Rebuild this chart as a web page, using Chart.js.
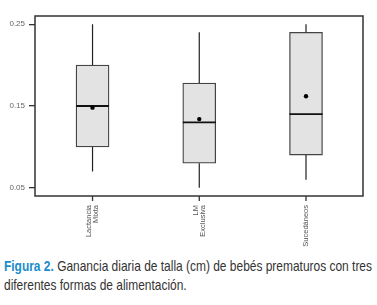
<!DOCTYPE html>
<html>
<head>
<meta charset="utf-8">
<script src="https://cdn.jsdelivr.net/npm/chart.js@4/dist/chart.umd.min.js"></script>
<style>
  html, body { margin: 0; padding: 0; background: #fff; }
  #wrap { position: relative; width: 377px; height: 305px; overflow: hidden; }
  #chartBox { position: absolute; left: 0; top: 0; width: 377px; height: 250px; }
  #caption { position: absolute; left: 4px; top: 256px;
    font-family: "Liberation Sans", Arial, sans-serif;
    font-size: 15px; line-height: 19px; color: #333; white-space: nowrap;
    transform-origin: 0 0; }
  #caption b { color: #1b8ccb; }
</style>
</head>
<body>
<div id="wrap">
  <div id="chartBox"><canvas id="c"></canvas></div>
  <div id="caption"><span id="l1"><b>Figura 2.</b> Ganancia diaria de talla (cm) de bebés prematuros con tres</span><br>diferentes formas de alimentación.</div>
</div>
<script>
const categories = [['Lactancia', 'Mixta'], ['LM', 'Exclusiva'], ['Sucedáneos']];
const whiskerMin = [0.07, 0.05, 0.06];
const q1 = [0.10, 0.08, 0.09];
const median = [0.15, 0.13, 0.14];
const q3 = [0.20, 0.178, 0.24];
const whiskerMax = [0.25, 0.24, 0.25];
const mean = [0.148, 0.134, 0.162];
const yTicks = [0.05, 0.15, 0.25];

const positions = categories.map((_, i) => i + 1);

// fit caption width like the condensed original
(function () {
  const l1 = document.getElementById('l1');
  const w = l1.getBoundingClientRect().width;
  const s = 368 / w;
  document.getElementById('caption').style.transform = 'scaleX(' + s + ')';
})();

const boxPlugin = {
  id: 'boxExtras',
  afterDatasetsDraw(chart) {
    const ctx = chart.ctx, xs = chart.scales.x, ys = chart.scales.y;
    const meta = chart.getDatasetMeta(0);
    ctx.save();
    positions.forEach((p, i) => {
      const x = xs.getPixelForValue(p);
      const bar = meta.data[i];
      const half = bar.width / 2;
      ctx.strokeStyle = '#222'; ctx.lineWidth = 1.2;
      ctx.beginPath();
      ctx.moveTo(x, ys.getPixelForValue(q3[i])); ctx.lineTo(x, ys.getPixelForValue(whiskerMax[i]));
      ctx.moveTo(x, ys.getPixelForValue(q1[i])); ctx.lineTo(x, ys.getPixelForValue(whiskerMin[i]));
      ctx.stroke();
      ctx.strokeStyle = '#111'; ctx.lineWidth = 1.8;
      ctx.beginPath();
      const ym = ys.getPixelForValue(median[i]);
      ctx.moveTo(x - half, ym); ctx.lineTo(x + half, ym);
      ctx.stroke();
      ctx.fillStyle = '#000';
      ctx.beginPath();
      ctx.arc(x, ys.getPixelForValue(mean[i]), 2.2, 0, Math.PI * 2);
      ctx.fill();
    });
    ctx.restore();
  },
  afterDraw(chart) {
    const ctx = chart.ctx, a = chart.chartArea, xs = chart.scales.x;
    ctx.save();
    ctx.strokeStyle = '#333'; ctx.lineWidth = 1.5;
    ctx.strokeRect(a.left, a.top, a.right - a.left, a.bottom - a.top);
    // x tick marks
    ctx.lineWidth = 1.3;
    ctx.beginPath();
    positions.forEach(p => {
      const x = xs.getPixelForValue(p);
      ctx.moveTo(x, a.bottom); ctx.lineTo(x, a.bottom + 5);
    });
    ctx.stroke();
    // rotated category labels
    ctx.fillStyle = '#555';
    ctx.font = '7.5px "Liberation Sans", Arial, sans-serif';
    ctx.textAlign = 'right';
    ctx.textBaseline = 'middle';
    const lh = 6.5;
    positions.forEach((p, i) => {
      const x = xs.getPixelForValue(p);
      const lines = categories[i];
      lines.forEach((t, k) => {
        const off = (k - (lines.length - 1) / 2) * lh;
        ctx.save();
        ctx.translate(x + off, a.bottom + 9);
        ctx.rotate(-Math.PI / 2);
        ctx.fillText(t, 0, 0);
        ctx.restore();
      });
    });
    ctx.restore();
  }
};

new Chart(document.getElementById('c'), {
  type: 'bar',
  data: {
    datasets: [{
      data: positions.map((p, i) => ({ x: p, y: [q1[i], q3[i]] })),
      backgroundColor: '#e3e3e3',
      borderColor: '#444',
      borderWidth: 1.3,
      borderSkipped: false,
      barThickness: 33
    }]
  },
  options: {
    responsive: true,
    maintainAspectRatio: false,
    animation: false,
    events: [],
    layout: { padding: { top: 16, right: 14, left: 0, bottom: 0 } },
    plugins: { legend: { display: false }, tooltip: { enabled: false } },
    scales: {
      x: {
        type: 'linear',
        offset: false,
        bounds: 'data',
        min: 0.461,
        max: 3.534,
        afterFit(s) { s.height = 54; },
        grid: { display: false, offset: false },
        border: { display: false },
        ticks: { display: false }
      },
      y: {
        min: 0.04,
        max: 0.26,
        afterBuildTicks(s) { s.ticks = yTicks.map(v => ({ value: v })); },
        afterFit(s) { s.width = 35; },
        grid: { display: true, drawOnChartArea: false, tickLength: 6, color: '#333', lineWidth: 1.3 },
        border: { display: false },
        ticks: {
          padding: 4,
          color: '#666',
          font: { family: '"Liberation Sans", Arial, sans-serif', size: 8 },
          callback: v => v.toFixed(2)
        }
      }
    }
  },
  plugins: [boxPlugin]
});
</script>
</body>
</html>
